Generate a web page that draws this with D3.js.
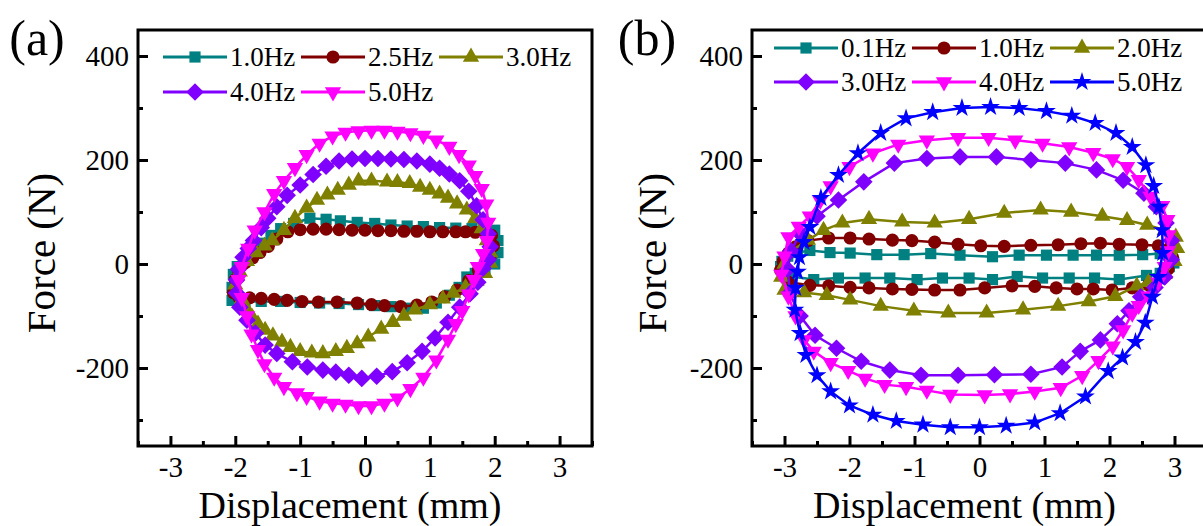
<!DOCTYPE html>
<html>
<head>
<meta charset="utf-8">
<script src="https://cdn.jsdelivr.net/npm/d3@7"></script>
<style>
    body { margin: 0; background: #fff; }
    svg { display: block; }
</style>
</head>
<body>
<svg id="chart" width="1203" height="526"></svg>
<script>
// ---- data (displacement mm, force N) ----
var aLabels = ["1.0Hz", "2.5Hz", "3.0Hz", "4.0Hz", "5.0Hz"];
var bLabels = ["0.1Hz", "1.0Hz", "2.0Hz", "3.0Hz", "4.0Hz", "5.0Hz"];

var xTicks = [-3, -2, -1, 0, 1, 2, 3];
var xMinor = [-3.5, -2.5, -1.5, -0.5, 0.5, 1.5, 2.5, 3.5];
var yTicks = [-200, 0, 200, 400];
var yMinor = [-300, -100, 100, 300];

// panel (a)
var a_1_0 = [[-2.05,-70],[-2.05,-45],[-2.03,-20],[-1.97,-5],[-1.85,10],[-1.72,25],[-1.6,40],[-1.45,55],[-1.3,68],[-1.1,78],[-0.85,88],[-0.6,86],[-0.38,83],[-0.12,80],[0.15,78],[0.4,75],[0.65,73],[0.9,72],[1.15,70],[1.4,69],[1.65,68],[1.85,67],[2.0,65],[2.05,45],[2.05,22],[2.0,0],[1.85,-10],[1.7,-18],[1.57,-25],[1.45,-45],[1.3,-60],[1.1,-75],[0.9,-85],[0.65,-85],[0.4,-82],[0.15,-80],[-0.1,-78],[-0.4,-76],[-0.7,-75],[-1.0,-74],[-1.3,-72],[-1.6,-72],[-1.85,-72]];
var a_2_5 = [[-2.03,-55],[-2.0,-30],[-1.95,-12],[-1.85,2],[-1.73,12],[-1.62,22],[-1.49,34],[-1.36,48],[-1.19,62],[-1.0,66],[-0.8,67],[-0.6,67],[-0.4,66],[-0.2,65],[0.0,65],[0.2,64],[0.4,64],[0.6,63],[0.8,63],[1.0,62],[1.2,62],[1.4,62],[1.55,62],[1.7,61],[1.85,60],[1.95,55],[1.98,35],[1.93,15],[1.85,0],[1.75,-12],[1.6,-32],[1.42,-50],[1.23,-63],[1.03,-73],[0.8,-79],[0.55,-82],[0.3,-80],[0.1,-78],[-0.12,-75],[-0.43,-73],[-0.72,-73],[-0.97,-72],[-1.2,-70],[-1.4,-68],[-1.6,-66],[-1.78,-65],[-1.95,-63]];
var a_3_0 = [[-2.0,-40],[-1.93,-15],[-1.82,5],[-1.68,22],[-1.55,35],[-1.43,45],[-1.25,65],[-1.08,88],[-0.9,108],[-0.74,123],[-0.58,133],[-0.42,142],[-0.25,152],[-0.1,160],[0.1,160],[0.34,158],[0.5,157],[0.69,155],[0.85,148],[1.0,142],[1.15,135],[1.28,127],[1.42,116],[1.57,104],[1.7,88],[1.8,68],[1.88,45],[1.93,22],[1.93,2],[1.85,-18],[1.72,-33],[1.55,-45],[1.36,-56],[1.2,-67],[1.0,-78],[0.77,-88],[0.6,-100],[0.43,-112],[0.25,-125],[0.05,-140],[-0.12,-153],[-0.28,-162],[-0.45,-168],[-0.65,-172],[-0.82,-171],[-1.0,-168],[-1.15,-160],[-1.28,-150],[-1.42,-138],[-1.54,-127],[-1.65,-115],[-1.74,-102],[-1.83,-85],[-1.9,-68]];
var a_4_0 = [[-1.95,-10],[-1.88,13],[-1.8,30],[-1.72,45],[-1.6,70],[-1.5,88],[-1.36,110],[-1.2,132],[-1.0,152],[-0.8,172],[-0.6,188],[-0.4,198],[-0.2,202],[0.0,203],[0.2,203],[0.4,202],[0.6,201],[0.8,198],[1.0,192],[1.15,184],[1.3,173],[1.46,160],[1.6,140],[1.72,112],[1.82,85],[1.9,58],[1.93,33],[1.9,8],[1.82,-8],[1.74,-35],[1.62,-57],[1.46,-83],[1.28,-112],[1.08,-142],[0.88,-168],[0.65,-190],[0.42,-207],[0.18,-216],[-0.05,-220],[-0.25,-214],[-0.45,-208],[-0.65,-204],[-0.89,-198],[-1.12,-188],[-1.36,-172],[-1.54,-156],[-1.69,-133],[-1.82,-108],[-1.93,-83],[-1.98,-56],[-1.98,-31]];
var a_5_0 = [[-1.95,-30],[-1.9,-5],[-1.8,30],[-1.7,65],[-1.55,100],[-1.4,135],[-1.25,160],[-1.08,185],[-0.9,210],[-0.7,232],[-0.5,246],[-0.3,253],[-0.1,256],[0.1,257],[0.3,257],[0.5,255],[0.7,252],[0.9,247],[1.1,238],[1.3,226],[1.45,210],[1.6,190],[1.7,170],[1.8,145],[1.87,115],[1.9,80],[1.88,45],[1.82,20],[1.74,-5],[1.68,-30],[1.6,-58],[1.5,-90],[1.4,-115],[1.28,-145],[1.1,-185],[0.9,-218],[0.7,-240],[0.5,-258],[0.3,-268],[0.1,-273],[-0.1,-273],[-0.3,-270],[-0.5,-268],[-0.7,-264],[-0.9,-255],[-1.05,-248],[-1.25,-236],[-1.4,-218],[-1.55,-192],[-1.65,-165],[-1.75,-135],[-1.82,-100],[-1.9,-65]];

// panel (b)
var b_0_1 = [[-3.06,-5],[-3.04,5],[-2.95,15],[-2.8,22],[-2.61,26],[-2.3,22],[-1.99,21],[-1.58,18],[-1.16,18],[-0.75,20],[-0.3,17],[0.2,14],[0.61,17],[1.03,17],[1.44,17],[1.8,17],[2.15,17],[2.51,18],[2.78,20],[2.95,15],[2.99,2],[2.92,-5],[2.78,-18],[2.57,-22],[2.15,-30],[1.77,-27],[1.38,-27],[0.97,-27],[0.58,-24],[0.2,-30],[-0.16,-27],[-0.57,-27],[-0.96,-30],[-1.38,-27],[-1.76,-27],[-2.17,-27],[-2.55,-30],[-2.89,-24]];
var b_1_0 = [[-3.06,-12],[-3.02,5],[-2.94,21],[-2.83,33],[-2.64,45],[-2.32,50],[-1.99,50],[-1.7,48],[-1.34,46],[-1.04,45],[-0.69,42],[-0.33,38],[0.02,35],[0.38,34],[0.79,36],[1.21,37],[1.56,39],[1.86,40],[2.15,38],[2.5,37],[2.75,35],[2.92,30],[2.97,12],[2.9,-10],[2.81,-25],[2.6,-40],[2.35,-46],[2.04,-50],[1.75,-48],[1.5,-48],[1.18,-46],[0.85,-43],[0.5,-42],[0.08,-46],[-0.3,-50],[-0.69,-50],[-1.04,-49],[-1.34,-48],[-1.7,-46],[-1.99,-45],[-2.32,-42],[-2.61,-41],[-2.94,-35]];
var b_2_0 = [[-3.05,-25],[-3.0,0],[-2.9,25],[-2.64,46],[-2.4,65],[-2.11,79],[-1.7,86],[-1.19,81],[-0.69,79],[-0.16,86],[0.38,98],[0.94,104],[1.41,100],[1.89,92],[2.27,84],[2.58,75],[2.85,65],[3.02,52],[3.04,30],[3.0,5],[2.85,-20],[2.6,-35],[2.42,-42],[2.09,-62],[1.68,-72],[1.21,-81],[0.67,-88],[0.11,-94],[-0.48,-94],[-1.01,-90],[-1.52,-81],[-1.99,-69],[-2.35,-60],[-2.7,-55],[-3.0,-50]];
var b_3_0 = [[-2.95,-10],[-2.9,25],[-2.76,58],[-2.5,92],[-2.17,123],[-1.78,158],[-1.31,194],[-0.81,203],[-0.3,206],[0.26,206],[0.79,200],[1.32,194],[1.8,181],[2.21,161],[2.53,136],[2.72,110],[2.87,79],[2.95,45],[2.95,8],[2.85,-25],[2.7,-45],[2.48,-63],[2.3,-90],[2.12,-115],[1.86,-146],[1.55,-168],[1.27,-198],[0.79,-212],[0.23,-213],[-0.33,-214],[-0.9,-214],[-1.38,-204],[-1.82,-187],[-2.2,-162],[-2.53,-137],[-2.76,-100],[-2.92,-56]];
var b_4_0 = [[-3.05,-20],[-3.0,15],[-2.94,52],[-2.78,72],[-2.61,92],[-2.45,122],[-2.29,150],[-2.0,187],[-1.64,213],[-1.25,230],[-0.81,238],[-0.33,243],[0.14,243],[0.55,238],[0.97,232],[1.38,225],[1.75,214],[2.05,202],[2.27,187],[2.45,162],[2.63,130],[2.81,112],[2.89,85],[2.91,56],[2.9,25],[2.85,-5],[2.75,-35],[2.6,-62],[2.45,-80],[2.35,-95],[2.21,-127],[2.05,-158],[1.83,-186],[1.58,-215],[1.25,-238],[0.85,-245],[0.47,-250],[0.08,-252],[-0.45,-251],[-0.81,-243],[-1.13,-236],[-1.46,-232],[-1.76,-220],[-2.02,-205],[-2.29,-190],[-2.55,-168],[-2.7,-146],[-2.83,-100],[-2.94,-62]];
var b_5_0 = [[-2.8,-15],[-2.77,13],[-2.7,42],[-2.61,71],[-2.44,127],[-2.17,171],[-1.87,213],[-1.52,252],[-1.13,280],[-0.72,292],[-0.27,300],[0.17,302],[0.61,300],[1.03,294],[1.42,285],[1.78,271],[2.1,252],[2.35,225],[2.56,190],[2.68,150],[2.76,110],[2.81,65],[2.82,21],[2.75,-25],[2.66,-63],[2.55,-113],[2.4,-150],[2.2,-180],[1.98,-206],[1.63,-255],[1.24,-287],[0.85,-305],[0.41,-311],[0.0,-314],[-0.45,-314],[-0.87,-309],[-1.28,-302],[-1.64,-290],[-2.0,-272],[-2.29,-245],[-2.5,-214],[-2.67,-175],[-2.76,-133],[-2.84,-88],[-2.83,-46]];

var aSeries = [a_1_0, a_2_5, a_3_0, a_4_0, a_5_0];
var bSeries = [b_0_1, b_1_0, b_2_0, b_3_0, b_4_0, b_5_0];

var aColors = ["#008080", "#800000", "#808000", "#8000ff", "#ff00ff"];
var bColors = ["#008080", "#800000", "#808000", "#8000ff", "#ff00ff", "#0000ff"];
var aShapes = ["square", "circle", "triangle", "diamond", "down"];
var bShapes = ["square", "circle", "triangle", "diamond", "down", "star"];

var FONT = "'Liberation Serif', 'Times New Roman', Times, serif";

var svg = d3.select("#chart");

var symbolPath = function (shape) {
    if (shape == "square") return d3.symbol(d3.symbolSquare, 125)();
    if (shape == "circle") return d3.symbol(d3.symbolCircle, 135)();
    if (shape == "triangle" || shape == "down") return d3.symbol(d3.symbolTriangle, 115)();
    if (shape == "diamond") return d3.symbol(d3.symbolSquare, 155)();
    if (shape == "star") return d3.symbol(d3.symbolStar, 110)();
}

var symbolRotate = function (shape) {
    if (shape == "down") return 180;
    if (shape == "diamond") return 45;
    return 0;
}

var addText = function (sel, size) {
    return sel.append("text")
        .style("font-family", FONT)
        .style("font-size", size + "px")
        .attr("fill", "#000");
}

function drawPanel(cfg) {
    var g = svg.append("g");

    var x = d3.scaleLinear().domain([-3.5, 3.5]).range([cfg.left, cfg.right]);
    var y = d3.scaleLinear().domain([-350, 450]).range([cfg.bottom, cfg.top]);

    // loops
    var line = d3.line()
        .x(function (d) { return x(d[0]); })
        .y(function (d) { return y(d[1]); })
        .curve(d3.curveLinearClosed);

    cfg.series.forEach(function (pts, i) {
        var s = g.append("g");
        s.append("path")
            .attr("d", line(pts))
            .attr("fill", "none")
            .attr("stroke", cfg.colors[i])
            .attr("stroke-width", 2.5);
        s.selectAll("path.m")
            .data(pts)
            .enter().append("path")
            .attr("class", "m")
            .attr("d", symbolPath(cfg.shapes[i]))
            .attr("fill", cfg.colors[i])
            .attr("transform", function (d) {
                return "translate(" + x(d[0]) + "," + y(d[1]) + ") rotate(" + symbolRotate(cfg.shapes[i]) + ")";
            });
    });

    // axes, ticks inward
    var xAxis = g.append("g")
        .attr("transform", "translate(0," + cfg.bottom + ")")
        .call(d3.axisBottom(x).tickValues(xTicks).tickSize(-10).tickPadding(10)
            .tickFormat(function (d) { return d; }));
    var xAxisMinor = g.append("g")
        .attr("transform", "translate(0," + cfg.bottom + ")")
        .call(d3.axisBottom(x).tickValues(xMinor).tickSize(-5).tickFormat(""));
    var yAxis = g.append("g")
        .attr("transform", "translate(" + cfg.left + ",0)")
        .call(d3.axisLeft(y).tickValues(yTicks).tickSize(-10).tickPadding(9)
            .tickFormat(function (d) { return d; }));
    var yAxisMinor = g.append("g")
        .attr("transform", "translate(" + cfg.left + ",0)")
        .call(d3.axisLeft(y).tickValues(yMinor).tickSize(-5).tickFormat(""));

    [xAxis, xAxisMinor, yAxis, yAxisMinor].forEach(function (ax) {
        ax.attr("font-family", null).attr("font-size", null);
        ax.select(".domain").remove();
        ax.selectAll(".tick line").attr("stroke", "#000").attr("stroke-width", 3);
        ax.selectAll(".tick text")
            .style("font-family", FONT)
            .style("font-size", "29px")
            .attr("fill", "#000");
    });

    // frame
    g.append("rect")
        .attr("x", cfg.left)
        .attr("y", cfg.top)
        .attr("width", cfg.right - cfg.left)
        .attr("height", cfg.bottom - cfg.top)
        .attr("fill", "none")
        .attr("stroke", "#000")
        .attr("stroke-width", 3);

    // titles
    addText(g, 38)
        .attr("x", (cfg.left + cfg.right) / 2 - 15)
        .attr("y", 517.5)
        .attr("text-anchor", "middle")
        .text("Displacement (mm)");

    addText(g, 41)
        .attr("transform", "translate(" + cfg.yTitleX + ",253) rotate(-90)")
        .attr("text-anchor", "middle")
        .text("Force (N)");

    addText(g, 50)
        .attr("x", cfg.labelX)
        .attr("y", 55)
        .attr("text-anchor", "middle")
        .text(cfg.label);

    // legend
    cfg.labels.forEach(function (name, i) {
        var col = i % 3, row = Math.floor(i / 3);
        var lx = cfg.legendX + col * 138;
        var ly = cfg.legendY[row];
        var e = g.append("g");
        e.append("line")
            .attr("x1", lx).attr("x2", lx + 64)
            .attr("y1", ly).attr("y2", ly)
            .attr("stroke", cfg.colors[i])
            .attr("stroke-width", 3);
        e.append("path")
            .attr("d", symbolPath(cfg.shapes[i]))
            .attr("fill", cfg.colors[i])
            .attr("transform", "translate(" + (lx + 32) + "," + ly + ") rotate(" + symbolRotate(cfg.shapes[i]) + ")");
        addText(e, 27)
            .attr("x", lx + 67)
            .attr("y", ly)
            .attr("dy", "0.35em")
            .text(name);
    });
}

drawPanel({
    left: 138, right: 592, top: 30, bottom: 446,
    series: aSeries, colors: aColors, shapes: aShapes, labels: aLabels,
    legendX: 163, legendY: [57, 92],
    yTitleX: 55, labelX: 37, label: "(a)"
});

drawPanel({
    left: 752, right: 1207, top: 30, bottom: 446,
    series: bSeries, colors: bColors, shapes: bShapes, labels: bLabels,
    legendX: 774, legendY: [48, 82],
    yTitleX: 666, labelX: 647, label: "(b)"
});
</script>
</body>
</html>
